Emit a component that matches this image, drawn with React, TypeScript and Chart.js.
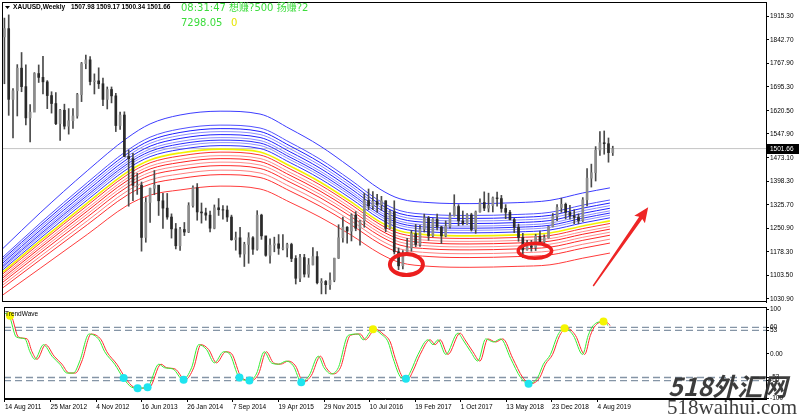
import React, { useEffect, useRef } from "react";
import { Chart, registerables } from "chart.js";
Chart.register(...registerables);

// ---------------- DATA ----------------
// XAUUSD candles, one bar per 3-week period starting 14 Aug 2011 (open = previous close)
const weeksPerBar = 3;
const firstOpen = 1852;
const barHighs = [
  1911, 1921, 1690, 1765, 1803, 1764, 1640, 1740, 1764, 1791, 1715, 1680, 1677, 1625, 1641, 1627, 1627, 1675, 1772, 1795,
  1790, 1736, 1755, 1723, 1695, 1695, 1675, 1616, 1617, 1497, 1487, 1424, 1397, 1348, 1378, 1433, 1386, 1361, 1361, 1297,
  1267, 1255, 1270, 1332, 1385, 1392, 1331, 1315, 1306, 1325, 1345, 1323, 1322, 1293, 1240, 1255, 1208, 1238, 1226, 1307,
  1296, 1224, 1219, 1224, 1232, 1232, 1205, 1205, 1166, 1170, 1170, 1157, 1191, 1179, 1094, 1088, 1112, 1158, 1263, 1287,
  1257, 1297, 1304, 1277, 1362, 1375, 1367, 1358, 1352, 1338, 1307, 1338, 1190, 1182, 1220, 1245, 1264, 1261, 1296, 1289,
  1282, 1296, 1258, 1275, 1300, 1357, 1326, 1306, 1298, 1299, 1306, 1344, 1366, 1362, 1350, 1365, 1355, 1326, 1308, 1283,
  1265, 1236, 1214, 1214, 1233, 1243, 1231, 1258, 1298, 1326, 1346, 1331, 1324, 1310, 1297, 1348, 1439, 1453, 1508, 1555,
  1557, 1535, 1509.17,
];
const barLows = [
  1705, 1606, 1535, 1604, 1680, 1576, 1523, 1625, 1709, 1673, 1627, 1613, 1577, 1527, 1563, 1547, 1565, 1597, 1649, 1752,
  1701, 1673, 1690, 1636, 1626, 1645, 1555, 1562, 1476, 1321, 1338, 1358, 1180, 1208, 1270, 1357, 1292, 1251, 1280, 1221,
  1187, 1182, 1229, 1238, 1318, 1277, 1268, 1277, 1240, 1250, 1292, 1280, 1273, 1214, 1183, 1161, 1132, 1142, 1170, 1183,
  1217, 1164, 1142, 1178, 1170, 1184, 1162, 1147, 1077, 1084, 1099, 1098, 1137, 1077, 1046, 1046, 1060, 1084, 1157, 1208,
  1205, 1212, 1244, 1199, 1255, 1310, 1310, 1302, 1308, 1241, 1251, 1171, 1122, 1124, 1170, 1180, 1194, 1195, 1240, 1214,
  1225, 1247, 1204, 1225, 1252, 1290, 1260, 1262, 1264, 1243, 1236, 1302, 1307, 1303, 1303, 1321, 1302, 1282, 1278, 1238,
  1211, 1160, 1183, 1180, 1182, 1207, 1196, 1221, 1256, 1276, 1302, 1281, 1280, 1266, 1266, 1273, 1322, 1381, 1400, 1480,
  1484, 1459, 1480,
];
const barCloses = [
  1878, 1656, 1683, 1754, 1696, 1598, 1616, 1737, 1725, 1711, 1668, 1643, 1580, 1622, 1572, 1589, 1604, 1671, 1768, 1780,
  1712, 1714, 1705, 1656, 1687, 1667, 1574, 1607, 1477, 1470, 1386, 1387, 1223, 1333, 1377, 1387, 1338, 1315, 1287, 1250,
  1197, 1248, 1240, 1323, 1379, 1303, 1300, 1293, 1252, 1316, 1310, 1309, 1287, 1216, 1222, 1171, 1201, 1222, 1186, 1293,
  1228, 1167, 1199, 1203, 1189, 1190, 1201, 1157, 1095, 1160, 1108, 1137, 1163, 1081, 1085, 1075, 1089, 1158, 1222, 1255,
  1243, 1293, 1252, 1275, 1339, 1322, 1336, 1326, 1338, 1251, 1304, 1178, 1134, 1173, 1190, 1235, 1201, 1249, 1284, 1228,
  1280, 1256, 1228, 1258, 1291, 1320, 1275, 1266, 1294, 1248, 1303, 1333, 1315, 1323, 1347, 1345, 1314, 1302, 1279, 1255,
  1223, 1184, 1196, 1192, 1227, 1209, 1222, 1257, 1289, 1317, 1327, 1302, 1291, 1286, 1276, 1341, 1409, 1426, 1497, 1520,
  1517, 1489, 1501.66,
];
const lastPrice = 1501.66;
const headerSymbol = "XAUUSD,Weekly";
const headerOHLC = "1507.98 1509.17 1500.34 1501.66";
const headerClock = "08:31:47 想赚?500 扬赚?2";
const headerValue = "7298.05";
const headerZero = "0";

// price axis
const priceTicks = [1915.3, 1842.7, 1767.9, 1695.3, 1620.5, 1547.9, 1473.1, 1398.3, 1325.7, 1250.9, 1178.3, 1103.5, 1030.9];
const priceMin = 1020.6;
const priceMax = 1961.4;

// time axis (week index from 14 Aug 2011)
const dateLabels = [
  "14 Aug 2011", "25 Mar 2012", "4 Nov 2012", "16 Jun 2013", "26 Jan 2014", "7 Sep 2014", "19 Apr 2015",
  "29 Nov 2015", "10 Jul 2016", "19 Feb 2017", "1 Oct 2017", "13 May 2018", "23 Dec 2018", "4 Aug 2019",
];
const dateLabelStepWeeks = 32;
const weekMin = -0.7;
const weekMax = 534.3;

// envelope bands: centre line, width factor, and each line's offset (price units at factor 1)
const bandWeeks = [0, 26, 59, 87, 103, 124, 152, 180, 201, 222, 243, 264, 278, 299, 327, 360, 383, 406, 425];
const bandCenter = [1115, 1212, 1331, 1428, 1466, 1488, 1500, 1491, 1447, 1397, 1337, 1272, 1243, 1231, 1228, 1231, 1237, 1259, 1275];
const bandScale = [0.62, 0.74, 0.85, 0.9, 0.95, 1.0, 1.0, 1.0, 0.98, 0.95, 0.9, 0.86, 0.85, 0.85, 0.85, 0.85, 0.86, 0.87, 0.87];
const upperOffsets = [119, 75.3, 64.3, 54.9, 45.5, 36.1, 28.2, 20.4, 11.0];
const lowerOffsets = [-9.4, -20.4, -29.8, -40.8, -51.7, -65.9, -80.0, -116];

// TrendWave oscillator
const oscWeeks = [
  0, 3, 8, 14, 17.5, 21, 27, 33, 38.5, 43.5, 48, 52.5, 59, 66, 70, 77, 83, 89, 93, 100,
  108, 112, 118, 125, 131, 136, 141.5, 147, 153.5, 157.5, 164.5, 171.5, 176.5, 182, 187, 192, 197.5, 202.5, 208, 213.5,
  220, 224, 229, 234, 241, 248, 251.5, 258.5, 264, 269, 272.5, 278, 281.5, 285, 290, 297, 300.5, 304, 309.5, 318,
  321.5, 327, 332, 337.5, 343, 348, 355, 362, 367.5, 374, 378, 383, 388, 393, 399, 405.5, 409.5, 413, 420, 423.5,
];
const oscValues = [
  92, 86, 38, 34, 5, -12, 21, -5, -23, -43, -43, -16, 45, 32, 5, -23, -54, -75, -77, -75,
  -23, -31, -34, -58, -31, 21, 10, -20, 5, 1, -53, -60, -45, 5, -20, -23, -16, -27, -63, -49,
  -5, -31, -45, -31, 42, 45, 32, 56, 45, 27, -10, -53, -56, -38, -1, 32, 21, 32, -1, 47,
  32, 5, -16, 34, 27, 34, -10, -53, -67, -53, -23, -1, 42, 58, 42, -1, 42, 64, 73, 64,
];
const signalLagWeeks = 1.5;
const upDotWeeks = [3.5, 258.4, 392.9, 420.2];
const upDotValues = [86, 56, 58, 73];
const downDotWeeks = [83.3, 93.1, 100.1, 125.4, 164.6, 171.6, 208, 281.5, 367.6];
const downDotValues = [-54, -77, -75, -58, -53, -60, -64, -56, -67];
const levelValues = [60, 53, -53, -60];
const oscTicks = [100, 60, 53, 0, -53, -60, -100];
const oscMin = -101.5;
const oscMax = 105.9;

// hand-drawn annotations (in data units)
const markEllipses = [
  { week: 282.5, price: 1138, rx: 16.5, ry: 10.5, lw: 4 },
  { week: 372.5, price: 1181, rx: 16.7, ry: 7.5, lw: 3.5 },
];
const arrowFrom = { week: 413.3, price: 1070.8 };
const arrowTo = { week: 451.8, price: 1317.6 };

// ---------------- STYLE ----------------
const FONT = '"Liberation Sans", Arial, sans-serif';
const AXIS_W = 34;
const upperColors = ["#3c3cff", "#5050ff", "#1e1eff", "#8c8cff", "#1e1eff", "#8c8cff", "#2a2aff", "#9090ff", "#3030ff"];
const lowerColors = ["#ff3030", "#ff8c8c", "#ff2020", "#ff8c8c", "#ff2a2a", "#ff8080", "#ff3030", "#ff3c3c"];

function bandLine(off: number) {
  return bandWeeks.map((w, i) => ({ x: w, y: bandCenter[i] + off * bandScale[i] }));
}

function yAxisFit(s: any) {
  s.width = AXIS_W;
  s.paddingTop = 0;
  s.paddingBottom = 0;
}

const mainDecor = {
  id: "mainDecor",
  afterDatasetsDraw(chart: any) {
    const { ctx, chartArea: a, scales } = chart;
    const xs = scales.x;
    const ys = scales.y;
    ctx.save();
    ctx.strokeStyle = "#ec1e1e";
    for (const e of markEllipses) {
      ctx.lineWidth = e.lw;
      ctx.beginPath();
      ctx.ellipse(xs.getPixelForValue(e.week), ys.getPixelForValue(e.price), e.rx, e.ry, 0, 0, Math.PI * 2);
      ctx.stroke();
    }
    const x0 = xs.getPixelForValue(arrowFrom.week);
    const y0 = ys.getPixelForValue(arrowFrom.price);
    const x1 = xs.getPixelForValue(arrowTo.week);
    const y1 = ys.getPixelForValue(arrowTo.price);
    const ang = Math.atan2(y1 - y0, x1 - x0);
    const len = Math.hypot(x1 - x0, y1 - y0);
    ctx.translate(x0, y0);
    ctx.rotate(ang);
    ctx.fillStyle = "#ee2626";
    ctx.beginPath();
    ctx.moveTo(0, -0.7);
    ctx.lineTo(len - 13, -1.9);
    ctx.lineTo(len - 15, -6.5);
    ctx.lineTo(len, 0);
    ctx.lineTo(len - 15, 6.5);
    ctx.lineTo(len - 13, 1.9);
    ctx.lineTo(0, 0.7);
    ctx.closePath();
    ctx.fill();
    ctx.restore();

    ctx.save();
    ctx.strokeStyle = "#000";
    ctx.lineWidth = 1;
    ctx.strokeRect(a.left + 0.5, a.top + 0.5, a.right - a.left, a.bottom - a.top - 1);
    ctx.restore();
  },
  afterDraw(chart: any) {
    const { ctx, scales } = chart;
    ctx.save();
    // header
    ctx.fillStyle = "#000";
    ctx.beginPath();
    ctx.moveTo(5, 6);
    ctx.lineTo(10, 6);
    ctx.lineTo(7.5, 9);
    ctx.closePath();
    ctx.fill();
    ctx.textBaseline = "middle";
    ctx.textAlign = "left";
    ctx.font = `bold 6.6px ${FONT}`;
    ctx.fillText(headerSymbol, 13, 7.5);
    ctx.font = `bold 6.5px ${FONT}`;
    ctx.fillText(headerOHLC, 71, 7.5);
    ctx.font = `10px "DejaVu Sans", "Noto Sans CJK SC", sans-serif`;
    ctx.fillStyle = "#3cdc3c";
    ctx.fillText(headerClock, 181, 8.5);
    ctx.fillText(headerValue, 181, 23);
    ctx.fillStyle = "#e6e600";
    ctx.fillText(headerZero, 231, 23);
    // current price box
    const py = Math.round(scales.y.getPixelForValue(lastPrice));
    ctx.fillStyle = "#000";
    ctx.fillRect(767, py - 5, 32, 10);
    ctx.fillStyle = "#fff";
    ctx.font = `6.5px ${FONT}`;
    ctx.fillText(lastPrice.toFixed(2), 770, py + 0.5);
    ctx.restore();
  },
};

const subDecor = {
  id: "subDecor",
  afterDatasetsDraw(chart: any) {
    const { ctx, chartArea: a } = chart;
    ctx.save();
    ctx.strokeStyle = "#000";
    ctx.lineWidth = 1;
    ctx.strokeRect(a.left + 0.5, a.top + 0.5, a.right - a.left, a.bottom - a.top - 1);
    ctx.fillStyle = "#000";
    ctx.font = `6.5px ${FONT}`;
    ctx.textBaseline = "middle";
    ctx.fillText("TrendWave", 5, a.top + 7);
    ctx.restore();
  },
  afterDraw(chart: any) {
    const { ctx } = chart;
    ctx.save();
    ctx.fillStyle = "rgba(45,45,45,0.92)";
    ctx.textBaseline = "alphabetic";
    ctx.font = `italic bold 25px "Noto Sans CJK SC", sans-serif`;
    ctx.fillText("518外汇网", 668, 93);
    ctx.font = `21px "Liberation Serif", serif`;
    ctx.fillText("518waihui.com", 667, 111);
    ctx.restore();
  },
};

export default function App() {
  const mainRef = useRef<HTMLCanvasElement>(null);
  const subRef = useRef<HTMLCanvasElement>(null);

  useEffect(() => {
    const opens = barCloses.map((_, i) => (i === 0 ? firstOpen : barCloses[i - 1]));
    const barWeek = (i: number) => i * weeksPerBar + 1;
    const wicks = barHighs.map((h, i) => ({ x: barWeek(i), y: [barLows[i], h] }));
    const bodies = barCloses.map((c, i) => ({ x: barWeek(i), y: [Math.min(opens[i], c), Math.max(opens[i], c)] }));
    const bodyColors = barCloses.map((c, i) => (c >= opens[i] ? "#8c8c8c" : "#2a2a2a"));

    const bandSets: any[] = [];
    upperOffsets.forEach((off, i) =>
      bandSets.push({ type: "line", data: bandLine(off), borderColor: upperColors[i], borderWidth: 1, pointRadius: 0, cubicInterpolationMode: "monotone", order: 3 })
    );
    bandSets.push({ type: "line", data: bandLine(0), borderColor: "#f2f200", borderWidth: 1.6, pointRadius: 0, cubicInterpolationMode: "monotone", order: 2 });
    lowerOffsets.forEach((off, i) =>
      bandSets.push({ type: "line", data: bandLine(off), borderColor: lowerColors[i], borderWidth: 1, pointRadius: 0, cubicInterpolationMode: "monotone", order: 3 })
    );

    const tickFont = { family: FONT, size: 6.5 };

    const main = new Chart(mainRef.current as HTMLCanvasElement, {
      type: "line",
      data: {
        datasets: [
          { type: "bar", data: bodies as any, backgroundColor: bodyColors, barThickness: 2, grouped: false, borderWidth: 0, order: 0 } as any,
          { type: "bar", data: wicks as any, backgroundColor: "#4a4a4a", barThickness: 1, grouped: false, borderWidth: 0, order: 1 } as any,
          ...bandSets,
          { type: "line", data: [{ x: weekMin, y: lastPrice }, { x: weekMax, y: lastPrice }], borderColor: "#c4c4c4", borderWidth: 1, pointRadius: 0, order: 9 },
        ],
      },
      options: {
        animation: false,
        responsive: false,
        devicePixelRatio: 1,
        events: [],
        layout: { padding: { left: 2, top: 2, right: 0, bottom: 1 } },
        plugins: { legend: { display: false }, tooltip: { enabled: false } },
        scales: {
          x: { type: "linear", min: weekMin, max: weekMax, display: false, offset: false },
          y: {
            type: "linear",
            position: "right",
            min: priceMin,
            max: priceMax,
            afterBuildTicks: (s: any) => { s.ticks = priceTicks.map((v) => ({ value: v })); },
            afterFit: yAxisFit,
            ticks: { callback: (v: any) => Number(v).toFixed(2), font: tickFont, color: "#000", padding: 1, autoSkip: false },
            grid: { drawOnChartArea: false, drawTicks: true, tickLength: 3, color: "#000" },
            border: { display: true, color: "#000" },
          },
        },
      } as any,
      plugins: [mainDecor],
    });

    const sub = new Chart(subRef.current as HTMLCanvasElement, {
      type: "line",
      data: {
        datasets: [
          { data: upDotWeeks.map((w, i) => ({ x: w, y: upDotValues[i] })), showLine: false, pointRadius: 4, pointBackgroundColor: "#f5f500", pointBorderWidth: 0, order: 0 },
          { data: downDotWeeks.map((w, i) => ({ x: w, y: downDotValues[i] })), showLine: false, pointRadius: 4, pointBackgroundColor: "#1ee4ef", pointBorderWidth: 0, order: 0 },
          { data: oscWeeks.map((w, i) => ({ x: w, y: oscValues[i] })), borderColor: "#35ec35", borderWidth: 1, pointRadius: 0, cubicInterpolationMode: "monotone", order: 1 },
          { data: oscWeeks.map((w, i) => ({ x: w + signalLagWeeks, y: oscValues[i] })), borderColor: "#ff2c2c", borderWidth: 1, pointRadius: 0, cubicInterpolationMode: "monotone", order: 2 },
          ...levelValues.map((L) => ({ data: [{ x: weekMin, y: L }, { x: weekMax, y: L }], borderColor: "#8595a6", borderWidth: 1.3, borderDash: [7, 4], pointRadius: 0, order: 5 })),
        ],
      },
      options: {
        animation: false,
        responsive: false,
        devicePixelRatio: 1,
        events: [],
        layout: { padding: { left: 2, top: 1, right: 0, bottom: 0 } },
        plugins: { legend: { display: false }, tooltip: { enabled: false } },
        scales: {
          x: {
            type: "linear",
            min: weekMin,
            max: weekMax,
            offset: false,
            position: "bottom",
            afterBuildTicks: (s: any) => { s.ticks = dateLabels.map((_, i) => ({ value: i * dateLabelStepWeeks })); },
            afterFit: (s: any) => { s.height = 18; s.paddingLeft = 0; s.paddingRight = 0; },
            ticks: { callback: (_v: any, i: number) => dateLabels[i], align: "start", maxRotation: 0, autoSkip: false, font: tickFont, color: "#000", padding: 1 },
            grid: { drawOnChartArea: false, drawTicks: true, tickLength: 3, color: "#000" },
            border: { display: true, color: "#000" },
          },
          y: {
            type: "linear",
            position: "right",
            min: oscMin,
            max: oscMax,
            afterBuildTicks: (s: any) => { s.ticks = oscTicks.map((v) => ({ value: v })); },
            afterFit: yAxisFit,
            ticks: { callback: (v: any) => (Number(v) === 0 ? "0.00" : String(v)), font: tickFont, color: "#000", padding: 1, autoSkip: false },
            grid: { drawOnChartArea: false, drawTicks: true, tickLength: 3, color: "#000" },
            border: { display: true, color: "#000" },
          },
        },
      } as any,
      plugins: [subDecor],
    });

    return () => {
      main.destroy();
      sub.destroy();
    };
  }, []);

  return (
    <div style={{ position: "fixed", left: 0, top: 0, width: 800, height: 417, background: "#fff", overflow: "hidden" }}>
      <canvas ref={mainRef} width={800} height={303} style={{ position: "absolute", left: 0, top: 0, width: 800, height: 303 }} />
      <canvas ref={subRef} width={800} height={114} style={{ position: "absolute", left: 0, top: 303, width: 800, height: 114 }} />
    </div>
  );
}
